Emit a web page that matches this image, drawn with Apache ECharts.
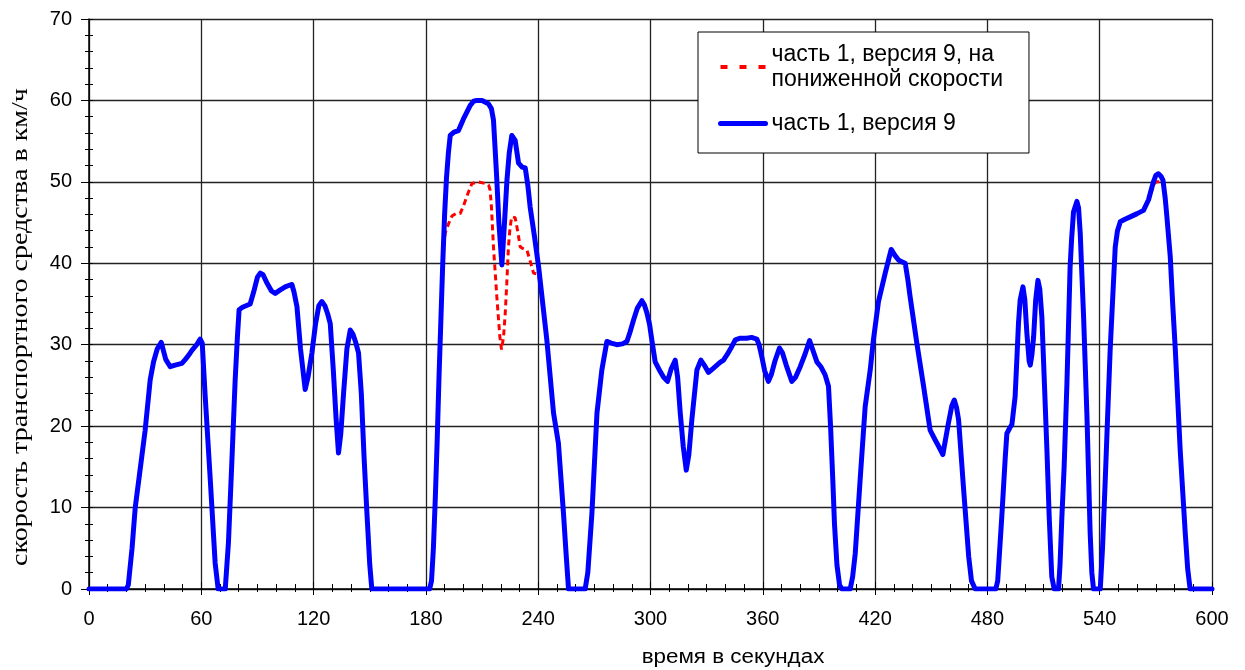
<!DOCTYPE html>
<html>
<head>
<meta charset="utf-8">
<script src="https://cdn.jsdelivr.net/npm/echarts@6/dist/echarts.min.js"></script>
<style>html,body{margin:0;padding:0;background:#fff}#c{width:1245px;height:670px}</style>
</head>
<body>
<div id="c"></div>
<script>
// Time ticks (s) and speed ticks (km/h)
var xTicks = [0, 60, 120, 180, 240, 300, 360, 420, 480, 540, 600];
var yTicks = [0, 10, 20, 30, 40, 50, 60, 70];

var nameNormal = 'часть 1, версия 9';
var nameReduced = 'часть 1, версия 9, на пониженной скорости';

// Full-speed trace: [time s, speed km/h]
var speedFull = [
  [0,0],[20,0],[21,0.5],[23,5],[24.7,10],[27.5,15],[30,19.5],[32.7,25.7],[34.5,27.9],[36.5,29.5],[38.6,30.3],
  [41,28.2],[43.4,27.3],[46,27.5],[49.6,27.7],[51.5,28.2],[53.2,28.7],[55,29.3],[57.5,30],[59.4,30.7],[60.5,30.2],
  [62.1,23.6],[64.8,13.4],[67.4,3.2],[69,0],[72.8,0],[74.5,5.7],[76.3,15.5],[78.1,25.7],[79.3,31],[80.2,34.3],
  [82,34.6],[86.1,35],[88,36.5],[90,38.3],[91.5,38.8],[93,38.6],[95,37.6],[97.5,36.6],[99.5,36.3],[102,36.7],
  [104.8,37.1],[107,37.3],[108.4,37.4],[109.5,36.5],[111.1,34.7],[113,29.5],[115.5,24.5],[117,26],[119.1,29],
  [121,32.5],[122.8,34.8],[124.4,35.3],[126,34.8],[127.5,33.8],[128.9,32.6],[130.5,27],[132,21],[133.3,16.7],
  [134.5,19],[136,24],[137.8,29.5],[139.6,31.8],[141,31.3],[142.5,30.3],[144,29],[145.5,24],[147,16],[148.5,9.3],
  [150,3],[151.1,0],[182,0],[183,1],[184,5],[185,11],[186,18],[187,26],[188,33],[189,40],[190,46],[191,50.5],
  [192,53.5],[193,55.7],[195,56.1],[197.4,56.3],[200,57.7],[203.7,59.4],[205.5,59.9],[207.2,60],[210,60],
  [213.4,59.6],[215,59],[216.1,57.6],[217,54],[217.9,50.2],[219,45],[220.6,39.8],[222,45],[223.3,50.2],
  [224.5,53.5],[225.9,55.7],[226.8,55.6],[227.7,55.1],[229.5,52.3],[231.5,51.8],[233.1,51.7],[234.5,49.5],
  [235.7,46.9],[238,43.3],[240.2,39.6],[244.6,30.6],[248.2,21.6],[250.8,17.9],[253.5,9.3],[255,4],[256.2,0],
  [265.1,0],[266.5,2],[268.7,9.3],[271.4,21.6],[274,26.9],[276.7,30.4],[279,30.2],[282,30],[285,30.1],
  [287.4,30.4],[289,31.5],[290.9,33],[293,34.5],[295.4,35.4],[296.7,34.9],[298.1,33.9],[299.5,32.5],[300.7,30.6],
  [302.5,27.9],[305.2,26.7],[307,26],[309.1,25.5],[311,27],[313.2,28.1],[314.5,26],[315.9,21.6],[317.5,17.5],
  [319.1,14.6],[320.5,16.5],[322.1,20.8],[324.8,26.9],[326.9,28.1],[329,27.4],[331,26.6],[334,27.2],[337,27.8],
  [339,28.1],[341,28.8],[343,29.6],[345.3,30.6],[348,30.8],[351.5,30.8],[354,30.9],[356.8,30.7],[358,30],
  [359.5,28.5],[361,26.8],[363,25.5],[364.5,26.3],[366.5,28],[368.9,29.6],[370.5,29],[372.5,27.5],[375.5,25.5],
  [377.5,26],[380,27.3],[382.5,28.8],[385,30.5],[386.5,29.5],[388.9,27.9],[391,27.3],[393.3,26.3],[395.1,24.9],
  [396.2,20],[397.4,13.4],[398.3,8],[399.6,3],[401,0.5],[402.3,0],[406.7,0],[408,1.5],[409.4,4.4],[412,13.4],
  [414.7,22.4],[417.4,26.9],[419.1,30.6],[421.8,35.3],[425.4,38.8],[428.6,41.7],[430.5,41],[432.5,40.4],
  [434,40.2],[436.1,40],[437.5,38],[438.7,35.9],[442.3,30.2],[445.9,24.9],[449.4,19.5],[452.1,18.3],[454,17.5],
  [456.2,16.5],[457.5,18.2],[459.2,20.4],[461,22.5],[462.3,23.2],[463.5,22.3],[464.6,20.8],[467.3,12.2],
  [470,4],[471.5,1],[473.5,0],[484.5,0],[485.5,1],[487.7,8.9],[489.5,16],[490.4,19.1],[492,19.8],[493.1,20.2],
  [494.8,23.6],[495.8,28.5],[496.6,32.6],[497.5,35.5],[499,37.1],[500,35.5],[501.1,31.4],[502.3,28],[502.9,27.5],
  [503.8,28.8],[504.7,31],[505.8,35.5],[507,37.9],[508,36.8],[509.1,33.4],[510.5,25],[511.8,17.1],[513,9],
  [514.4,1.5],[515.7,0],[518,0],[518.8,3],[519.8,8.9],[521,15],[522.5,25.3],[524.2,39.6],[525,43],[526,46.3],
  [527.8,47.6],[528.7,46.8],[529.6,43.7],[530.5,38.5],[531.4,33.4],[533.2,21.2],[534.9,6.9],[535.8,2],[536.7,0],
  [540.3,0],[541.5,5],[542.9,13],[544.2,21],[545.6,29.4],[547,36],[548.3,42],[549.5,44],[551,45.1],[553.5,45.4],
  [556.3,45.7],[560,46.1],[563.4,46.5],[566.1,47.8],[567.5,49],[568.7,50],[570,50.8],[571.4,51],[572.7,50.7],
  [573.8,50.2],[575,48],[575.9,45.7],[577.7,40.8],[579,35],[580.4,29.4],[583,17.1],[585.7,6.9],[587,2.5],
  [588.3,0],[600,0]
];

// Reduced-speed trace, where it differs from the full trace
var reducedPart1 = [
  [189,40],[189.8,42.5],[190.3,43.7],[192,44.8],[193.9,45.8],[196,46.1],[198.3,46.1],[200,47],[202.5,48.6],
  [204.6,49.8],[208,50],[211.7,49.8],[213.5,49.6],[214.3,49],[215,47],[216.1,42],[217.9,35.9],[219.5,31],
  [220.4,29.4],[221.5,31],[222.4,33.9],[223.2,37.5],[224.1,42],[225,44.5],[225.9,45.7],[227.7,45.6],[229,44],
  [230.4,42],[232,41.8],[234,41.6],[235.8,40.2],[237.5,38.8],[239,38.7],[241,38]
];
var reducedPart2 = [
  [567.5,48.7],[568.7,49.5],[570,50],[571.4,50],[572.7,50],[573.8,49.8]
];

function inRange(t, part) { return t >= part[0][0] && t <= part[part.length - 1][0]; }
var speedReduced = speedFull.filter(function (p) {
  return !inRange(p[0], reducedPart1) && !inRange(p[0], reducedPart2);
}).concat(reducedPart1, reducedPart2).sort(function (a, b) { return a[0] - b[0]; });

var FONT = 'Liberation Sans';
var chart = echarts.init(document.getElementById('c'), null, {renderer: 'canvas'});

var legendText = {};
legendText[nameReduced] = 'часть 1, версия 9, на\nпониженной скорости';
legendText[nameNormal] = 'часть 1, версия 9';

var hiddenSymbol = {color: 'rgba(0,0,0,0)', borderColor: 'rgba(0,0,0,0)', borderWidth: 0, opacity: 0};

chart.setOption({
  animation: false,
  backgroundColor: '#fff',
  grid: {left: 89, right: 33, top: 19, bottom: 81, containLabel: false},
  xAxis: [{
    type: 'value', min: xTicks[0], max: xTicks[xTicks.length - 1], interval: 60,
    axisLine: {show: true, lineStyle: {color: '#000', width: 1.5}},
    axisTick: {show: true, inside: false, length: 6, lineStyle: {color: '#000', width: 1}},
    minorTick: {show: true, splitNumber: 6, length: 3, lineStyle: {color: '#000', width: 1}},
    splitLine: {show: true, lineStyle: {color: '#222', width: 1.3}},
    axisLabel: {show: true, margin: 20, fontFamily: FONT, fontSize: 20, color: '#000'}
  }, {
    type: 'value', min: xTicks[0], max: xTicks[xTicks.length - 1], interval: 60, position: 'bottom',
    axisLine: {show: false},
    axisTick: {show: true, inside: true, length: 7, lineStyle: {color: '#000', width: 1}},
    minorTick: {show: true, splitNumber: 6, length: 5, lineStyle: {color: '#000', width: 1}},
    splitLine: {show: false}, axisLabel: {show: false}
  }],
  yAxis: [{
    type: 'value', min: yTicks[0], max: yTicks[yTicks.length - 1], interval: 10,
    axisLine: {show: true, lineStyle: {color: '#000', width: 1.5}},
    axisTick: {show: true, inside: false, length: 8, lineStyle: {color: '#000', width: 1}},
    minorTick: {show: true, splitNumber: 5, length: 4, lineStyle: {color: '#000', width: 1}},
    splitLine: {show: true, lineStyle: {color: '#222', width: 1.3}},
    axisLabel: {show: true, margin: 17, fontFamily: FONT, fontSize: 20, color: '#000'}
  }, {
    type: 'value', min: yTicks[0], max: yTicks[yTicks.length - 1], interval: 10, position: 'left',
    axisLine: {show: false},
    axisTick: {show: true, inside: true, length: 4, lineStyle: {color: '#000', width: 1}},
    minorTick: {show: true, splitNumber: 5, length: 4, lineStyle: {color: '#000', width: 1}},
    splitLine: {show: false}, axisLabel: {show: false}
  }],
  legend: {
    orient: 'vertical', left: 698, top: 32,
    padding: [10, 26, 17, 20], itemGap: 19, itemWidth: 45, itemHeight: 14,
    backgroundColor: '#fff', borderColor: '#000', borderWidth: 1, borderRadius: 0,
    textStyle: {fontFamily: FONT, fontSize: 23, lineHeight: 25, color: '#000', padding: [0, 0, 0, 1]},
    formatter: function (n) { return legendText[n]; },
    data: [
      {name: nameReduced, itemStyle: hiddenSymbol, lineStyle: {color: '#ff0000', width: 4, type: [7, 12]}},
      {name: nameNormal, itemStyle: hiddenSymbol, lineStyle: {color: '#0000ff', width: 5, type: 'solid'}}
    ]
  },
  graphic: [
    {type: 'text', x: 733, y: 657, scaleX: 1.12, style: {text: 'время в секундах', fontFamily: FONT, fontSize: 20, fill: '#000', align: 'center', verticalAlign: 'middle'}},
    {type: 'text', x: 21, y: 327, rotation: Math.PI / 2, scaleX: 1.22, style: {text: 'скорость транспортного средства в км/ч', fontFamily: 'Liberation Serif', fontSize: 23, fill: '#000', align: 'center', verticalAlign: 'middle'}}
  ],
  series: [{
    name: nameReduced, type: 'line', xAxisIndex: 0, yAxisIndex: 0, data: speedReduced,
    symbol: 'none', showSymbol: false, smooth: false, itemStyle: {color: '#ff0000'},
    lineStyle: {color: '#ff0000', width: 3, type: [6, 4]}, z: 2
  }, {
    name: nameNormal, type: 'line', xAxisIndex: 0, yAxisIndex: 0, data: speedFull,
    symbol: 'none', showSymbol: false, smooth: false, itemStyle: {color: '#0000ff'},
    lineStyle: {color: '#0000ff', width: 5, join: 'round', cap: 'round'}, z: 3
  }]
});
</script>
</body>
</html>
